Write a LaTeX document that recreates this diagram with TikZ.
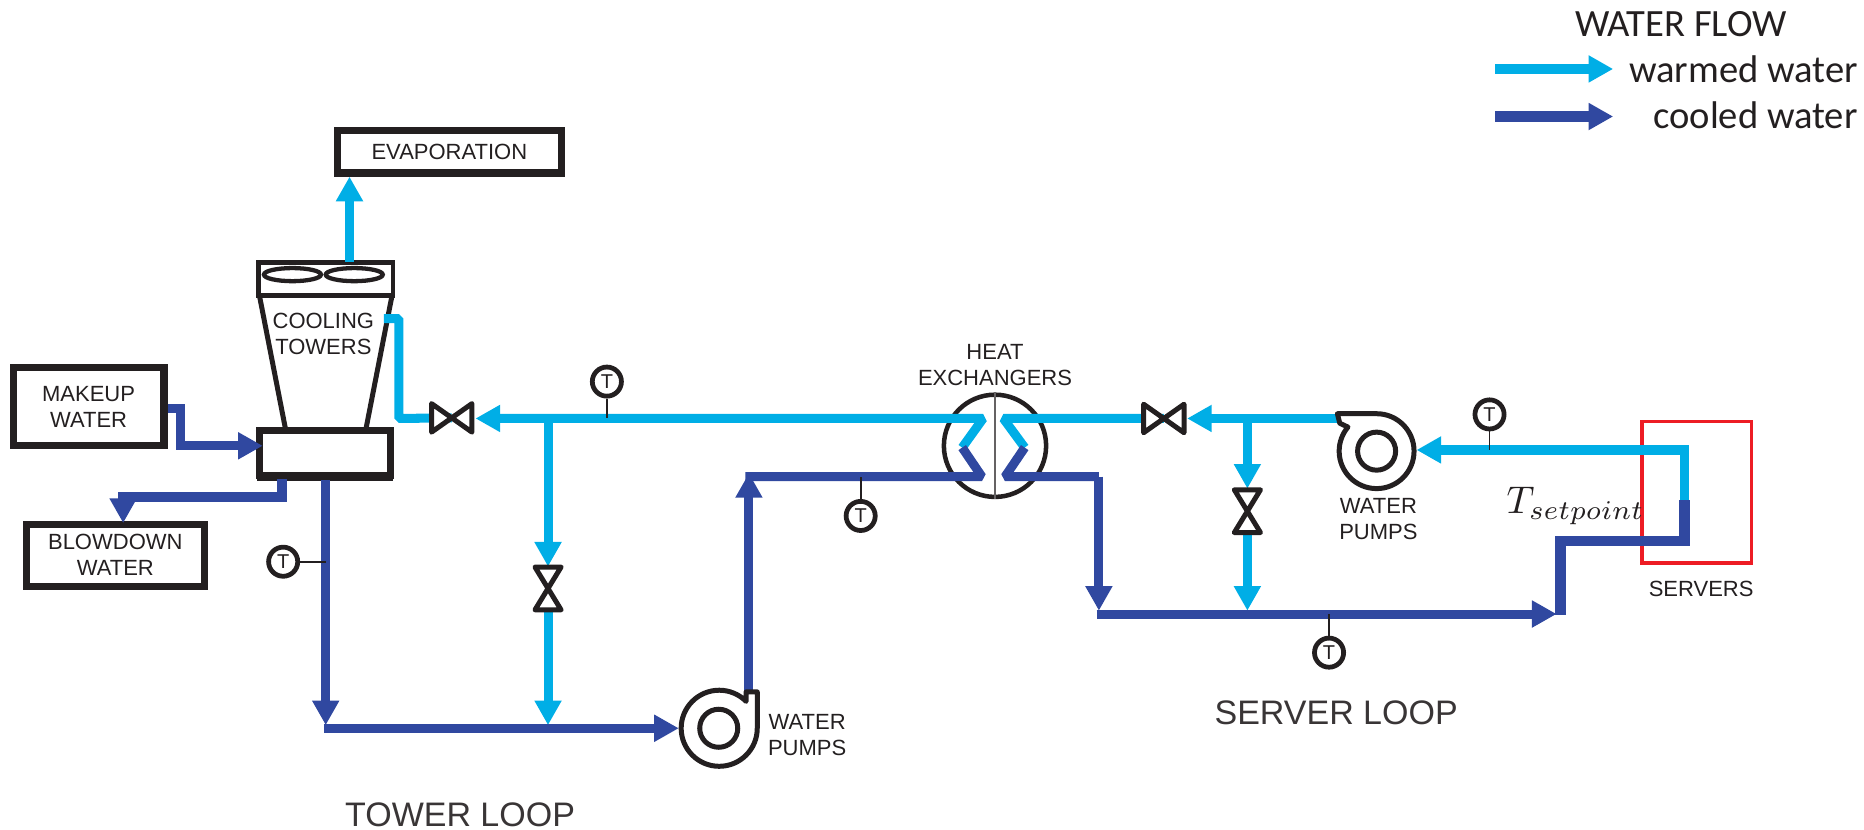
\documentclass[tikz,border=0pt]{standalone}
\usepackage{fontspec}
\setmainfont{Liberation Sans}
\newfontfamily\legendfont{Carlito}
\usetikzlibrary{arrows.meta}
\definecolor{warmc}{RGB}{0,174,230}
\definecolor{coolc}{RGB}{48,72,160}
\definecolor{inkc}{RGB}{35,31,32}
\definecolor{redc}{RGB}{237,28,36}
\def\unt{0.5944pt}
\tikzset{
  x=\unt, y=-\unt,
  pipew/.style={draw=warmc,line width=7.6*\unt,line join=bevel},
  pipec/.style={draw=coolc,line width=7.6*\unt,line join=miter},
  arr/.style={-{Triangle[length=12.3pt,width=12.8pt]}},
  boxn/.style={draw=inkc,line width=6*\unt,inner sep=0pt,align=center,text=inkc,font=\fontsize{11}{13}\selectfont},
  lbl/.style={inner sep=0pt,align=center,text=inkc,font=\fontsize{11}{13}\selectfont},
  biglbl/.style={inner sep=0pt,text=inkc!90,font=\fontsize{17}{20}\selectfont},
  legend/.style={inner sep=0pt,text=inkc,font=\legendfont\fontsize{19.3}{22}\selectfont},
  sensor/.style={circle,draw=inkc,line width=4*\unt,minimum size=24.5*\unt,inner sep=0pt,text=inkc,font=\fontsize{10}{10}\selectfont},
  stem/.style={draw=inkc,line width=1.5*\unt},
  outline/.style={draw=inkc,line width=4.2*\unt,line join=round},
  valveh/.pic={\draw[outline,fill=white] (-17,-12)--(17,12)--(17,-12)--(-17,12)--cycle;},
  valvev/.pic={\draw[outline,fill=white] (-11,-18)--(11,18)--(-11,18)--(11,-18)--cycle;},
}
\begin{document}
\begin{tikzpicture}
\useasboundingbox (0,0) rectangle (1568,698);
% boxes
\node[boxn,minimum width=188*\unt,minimum height=36*\unt] (evap) at (378,127.5) {EVAPORATION};
\node[boxn,minimum width=127*\unt,minimum height=66*\unt] (makeup) at (74.5,342) {MAKEUP\\WATER};
\node[boxn,minimum width=150*\unt,minimum height=52*\unt] (blow) at (97,467) {BLOWDOWN\\WATER};
% cooling tower
\node[draw=inkc,line width=4*\unt,minimum width=113*\unt,minimum height=28*\unt,inner sep=0pt] (ttop) at (274,234.5) {};
\node[draw=inkc,line width=5.5*\unt,minimum width=110*\unt,minimum height=38*\unt,inner sep=0pt] (basin) at (273.5,381) {};
\fill[inkc] (216,398) rectangle (331,405);
\draw[outline] (218.5,250) -- (240,360);
\draw[outline] (329.5,250) -- (308,360);
\draw[draw=inkc,line width=3.6*\unt] (246,231) ellipse [x radius=24,y radius=5.5];
\draw[draw=inkc,line width=3.6*\unt] (298,231) ellipse [x radius=24,y radius=5.5];
\node[lbl] (ctl) at (272,281) {COOLING\\TOWERS};
% coordinates
\coordinate (evo) at (294,220);
\coordinate (evi) at (294,148.6);
\coordinate (mo) at (141,343.5);
\coordinate (m1) at (152,343.5);
\coordinate (m2) at (152,375);
\coordinate (mi) at (221,375);
\coordinate (bo) at (237,403);
\coordinate (b1) at (237,418);
\coordinate (b2) at (103.6,418);
\coordinate (bi) at (103.6,440);
\coordinate (to) at (323,268);
\coordinate (t1) at (335.5,268);
\coordinate (t2) at (335.5,352);
\coordinate (v1c) at (380,351.5);
\coordinate (v2c) at (979,352);
\coordinate (v3c) at (1049.3,430);
\coordinate (v4c) at (461,495);
\coordinate (hl1) at (809.4,376.5);
\coordinate (hl2) at (827,352);
\coordinate (hl3) at (826,400.5);
\coordinate (hr1) at (862,376.5);
\coordinate (hr2) at (844,352);
\coordinate (hr3) at (845.4,400.5);
\coordinate (m3) at (400,352);
\coordinate (j1) at (461,352);
\coordinate (j2) at (1049.3,352);
\coordinate (v4t) at (461,476.6);
\coordinate (v4b) at (461,513);
\coordinate (v3t) at (1049.3,411);
\coordinate (v3b) at (1049.3,449);
\coordinate (cb1) at (274,404);
\coordinate (cb2) at (274,610);
\coordinate (h1) at (272.5,612.6);
\coordinate (h2) at (461,610);
\coordinate (h3) at (571,612.6);
\coordinate (p1t) at (630,581);
\coordinate (p1u) at (630,398);
\coordinate (l1) at (627,401);
\coordinate (l2) at (826,401);
\coordinate (r1) at (845.4,401);
\coordinate (r2) at (924.4,401);
\coordinate (r3) at (924.4,513.7);
\coordinate (s1) at (922.5,516.5);
\coordinate (s2) at (1049.3,513.7);
\coordinate (s3) at (1309.4,516.5);
\coordinate (u1) at (1312.6,517.5);
\coordinate (u2) at (1312.6,455);
\coordinate (u3) at (1417,455);
\coordinate (u4) at (1417,420.7);
\coordinate (w1) at (1417,378.5);
\coordinate (w2) at (1191.6,378.5);
\coordinate (p2o) at (1126,352);
\coordinate (v2a) at (998.6,352);
% servers
\node[draw=redc,line width=3*\unt,minimum width=92*\unt,minimum height=119*\unt,inner sep=0pt] (srv) at (1427.3,413.9) {};
% heat exchanger
\node[circle,draw=inkc,line width=3.8*\unt,minimum size=86*\unt,inner sep=0pt] (hx) at (837,375) {};
\draw[draw=inkc!70,line width=1.6*\unt] (hx.north) -- (hx.south);
% pipes warm
\draw[pipew,arr] (evo) -- (evi);
\draw[pipew] (to) -- (t1) -- (t2) -- (v1c);
\draw[pipew,arr] (hl1) -- (hl2) -- (m3);
\draw[pipew,arr] (j1) -- (v4t);
\draw[pipew] (hr1) -- (hr2) -- (v2c);
\draw[pipew,arr] (p2o) -- (v2a);
\draw[pipew,arr] (j2) -- (v3t);
\draw[pipew,arr] (v3b) -- (s2);
\draw[pipew,arr] (v4b) -- (h2);
\draw[pipew,line width=8*\unt,line join=miter,arr] (u4) -- (w1) -- (w2);
% pipes cool
\draw[pipec,arr] (mo) -- (m1) -- (m2) -- (mi);
\draw[pipec,line width=8.5*\unt,arr] (bo) -- (b1) -- (b2) -- (bi);
\draw[pipec,arr] (cb1) -- (cb2);
\draw[pipec,arr] (h1) -- (h3);
\draw[pipec,arr] (p1t) -- (p1u);
\draw[pipec,line join=bevel] (l1) -- (l2) -- (hl1);
\draw[pipec,line join=bevel] (hr1) -- (r1) -- (r2);
\draw[pipec,arr] (r2) -- (r3);
\draw[pipec,arr] (s1) -- (s3);
\draw[pipec,line width=9*\unt] (u1) -- (u2) -- (u3) -- (u4);
% valves
\pic at (v1c) {valveh};
\pic at (v2c) {valveh};
\pic at (v3c) {valvev};
\pic at (v4c) {valvev};
% pumps
\node[circle,draw=inkc,line width=4.2*\unt,minimum size=32*\unt,inner sep=0pt] (pl) at (604.6,612.6) {};
\node[circle,draw=inkc,line width=4.2*\unt,minimum size=32*\unt,inner sep=0pt] (pr) at (1158,379.5) {};
\draw[outline] (627.6,582) -- (637,582) -- (637,612.6) arc[start angle=0,end angle=-315,radius=32*\unt] -- cycle;
\draw[outline] (1125,348) -- (1158,348) arc[start angle=90,end angle=-220,radius=31.5*\unt] -- (1127,356) -- cycle;
% sensors
\node[sensor] (t1s) at (510.5,321) {T};
\node[sensor] (t2s) at (1253,348.6) {T};
\node[sensor] (t3s) at (724,434) {T};
\node[sensor] (t4s) at (1118,549) {T};
\node[sensor] (t5s) at (238.2,472.5) {T};
\draw[stem] (t1s.south) -- (t1s.south |- j1);
\draw[stem] (t2s.south) -- (t2s.south |- w1);
\draw[stem] (t3s.north) -- (t3s.north |- l1);
\draw[stem] (t4s.north) -- (t4s.north |- s1);
\draw[stem] (t5s.east) -- (t5s.east -| cb1);
% labels
\node[lbl] (hxl) at (837,307) {HEAT\\EXCHANGERS};
\node[lbl] (pll) at (679,618.5) {WATER\\PUMPS};
\node[lbl] (prl) at (1159.5,436.5) {WATER\\PUMPS};
\node[lbl] (srvl) at (1431,495.8) {SERVERS};
\node[biglbl] (sl) at (1124,600) {SERVER LOOP};
\node[biglbl] (tl) at (387,685) {TOWER LOOP};
\node[inner sep=0pt,anchor=base west,text=inkc] (tsp) at (1267,432) {\scalebox{1.93}{$T_{setpoint}$}};
% legend
\node[legend,anchor=base] (lt) at (1414,30.3) {WATER FLOW};
\node[legend,anchor=base east] (lw) at (1563,69.5) {warmed water};
\node[legend,anchor=base east] (lc) at (1563,108) {cooled water};
\coordinate (law) at (1258,58);
\coordinate (lbw) at (1357,58);
\coordinate (lac) at (1258,98);
\coordinate (lbc) at (1357,98);
\draw[pipew,line width=9*\unt,arr] (law) -- (lbw);
\draw[pipec,line width=9*\unt,arr] (lac) -- (lbc);
\end{tikzpicture}
\end{document}
